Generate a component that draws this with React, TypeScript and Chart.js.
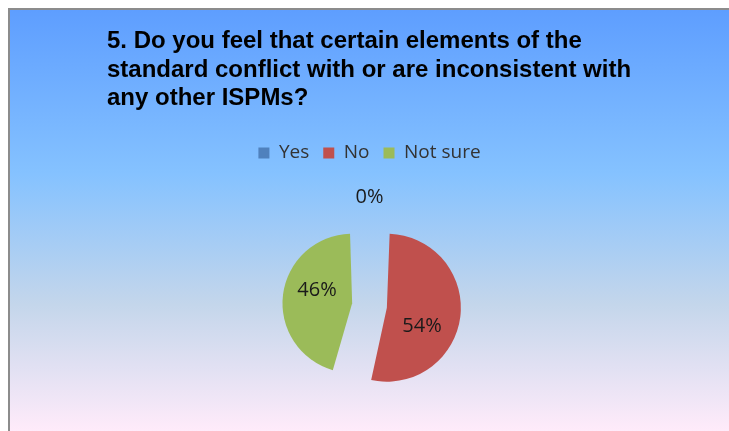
import React, { useEffect, useRef } from "react";
import { Chart, registerables } from "chart.js";

Chart.register(...registerables);

const titleLines = [
  "5. Do you feel that certain elements of the",
  "standard conflict with or are inconsistent with",
  "any other ISPMs?",
];
const categories = ["Yes", "No", "Not sure"];
const values = [0, 54, 46];
const colors = ["#4F81BD", "#C0504D", "#9BBB59"];
const explode = [0, 70, 70];

const labelPlugin = {
  id: "sliceLabels",
  afterDatasetsDraw(chart: any) {
    const ctx = chart.ctx;
    const meta = chart.getDatasetMeta(0);
    const data = chart.data.datasets[0].data as number[];
    const total = data.reduce((a: number, b: number) => a + b, 0);
    ctx.save();
    ctx.font = '20px "Open Sans"';
    ctx.fillStyle = "#1a1a1a";
    ctx.textAlign = "center";
    ctx.textBaseline = "middle";
    meta.data.forEach((arc: any, i: number) => {
      const { x, y, startAngle, endAngle, outerRadius } = arc.getProps(
        ["x", "y", "startAngle", "endAngle", "outerRadius"],
        true
      );
      const off = (arc.options.offset || 0) / 4;
      const mid = (startAngle + endAngle) / 2;
      const pct = Math.round((data[i] / total) * 100) + "%";
      let lx: number;
      let ly: number;
      if (data[i] === 0) {
        const r = outerRadius + 52;
        lx = x + Math.cos(mid) * r;
        ly = y + Math.sin(mid) * r;
      } else {
        const visR = outerRadius + off;
        const a = mid + (17 * Math.PI) / 180;
        lx = x + Math.cos(mid) * off + Math.cos(a) * visR * 0.52;
        ly = y + Math.sin(mid) * off + Math.sin(a) * visR * 0.52 + 3;
      }
      ctx.fillText(pct, lx, ly);
    });
    ctx.restore();
  },
};

export default function App() {
  const ref = useRef<HTMLCanvasElement | null>(null);

  useEffect(() => {
    if (!ref.current) return;
    const chart = new Chart(ref.current, {
      type: "pie",
      data: {
        labels: categories,
        datasets: [
          {
            data: values,
            backgroundColor: colors,
            borderWidth: 0,
            offset: explode,
            radius: 56.5,
          } as any,
        ],
      },
      options: {
        responsive: false,
        animation: false,
        layout: { padding: { top: 119.5, bottom: 11.5, left: 0, right: 0 } },
        plugins: {
          legend: {
            position: "top",
            labels: {
              boxWidth: 11,
              boxHeight: 11,
              padding: 14,
              color: "#333333",
              font: { family: '"Open Sans"', size: 19 },
            },
          },
          tooltip: { enabled: false },
          title: { display: false },
        },
      },
      plugins: [labelPlugin],
    });
    return () => chart.destroy();
  }, []);

  return (
    <div
      style={{
        position: "fixed",
        left: 8,
        top: 8,
        width: 719,
        height: 421,
        borderTop: "2px solid #8c8c8c",
        borderLeft: "2px solid #8c8c8c",
        overflow: "hidden",
        background:
          "linear-gradient(180deg, #5E9EFF 0%, #85C2FF 39%, #C4D6EB 70%, #FFEBFA 100%)",
      }}
    >
      <canvas
        ref={ref}
        width={719}
        height={440}
        style={{ position: "absolute", left: 0, top: 0, width: 719, height: 440 }}
      />
      <div
        style={{
          position: "absolute",
          left: 97,
          top: 16.4,
          font: 'bold 24px "Liberation Sans", Arial, sans-serif',
          lineHeight: "28.5px",
          color: "#000",
          whiteSpace: "nowrap",
        }}
      >
        {titleLines.map((l, i) => (
          <div key={i}>{l}</div>
        ))}
      </div>
    </div>
  );
}
